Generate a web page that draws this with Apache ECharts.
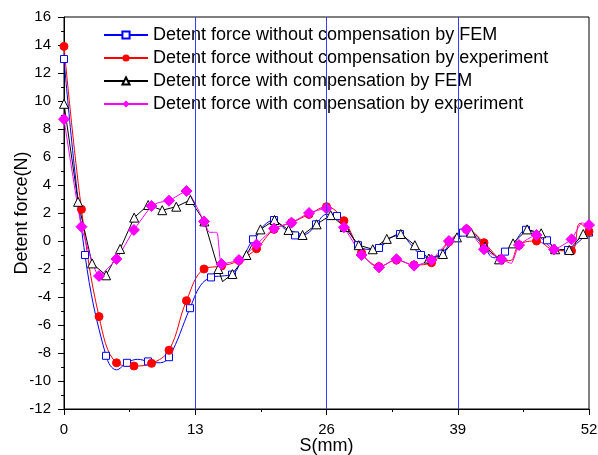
<!DOCTYPE html>
<html>
<head>
<meta charset="utf-8">
<script src="https://cdn.jsdelivr.net/npm/echarts@6/dist/echarts.min.js"></script>
<style>
  html, body { margin: 0; padding: 0; background: #fff; }
  #chart { width: 598px; height: 455px; }
</style>
</head>
<body>
<div id="chart"></div>
<script>
// Detent force versus position S (mm)
const xTicks = [0, 13, 26, 39, 52];
const pitchLines = [13, 26, 39];

const seriesNames = [
  'Detent force without compensation by FEM',
  'Detent force without compensation by experiment',
  'Detent force with compensation by FEM',
  'Detent force with compensation by experiment'
];

// FEM, without compensation (marked samples)
const femRawX = [0, 2.08, 4.16, 6.24, 8.32, 10.4, 12.48, 14.56, 16.64, 18.72, 20.8, 22.88, 24.96, 27.04, 29.12, 31.2, 33.28, 35.36, 37.44, 39.52, 41.6, 43.68, 45.76, 47.84, 49.92, 52];
const femRawY = [13.0, -1.0, -8.2, -8.7, -8.6, -8.3, -4.8, -2.6, -2.4, 0.12, 1.5, 0.4, 1.19, 1.79, -0.3, -0.5, 0.5, -1.0, -0.9, 0.6, -0.4, -0.76, 0.8, 0.05, -0.64, 0.6];
// FEM, without compensation (intermediate samples)
const femRawMidX = [5.2, 7.3, 9.4, 13.5, 15.6, 17.7, 19.8, 21.8, 24.0, 26.0, 28.1, 30.2, 32.3, 34.3, 36.4, 38.5, 40.6, 42.6, 44.7, 46.8, 48.9, 50.9];
const femRawMidY = [-9.2, -8.45, -8.7, -3.2, -2.5, -1.2, 1.1, 0.9, 0.5, 1.9, 0.9, -0.6, 0.2, -0.2, -1.2, 0.1, 0.5, -1.2, 0.0, 0.5, -0.6, -0.1];

// Experiment, without compensation
const expRawX = [0, 1.73, 3.47, 5.2, 6.93, 8.67, 10.4, 12.13, 13.87, 15.6, 17.33, 19.07, 20.8, 22.53, 24.27, 26.0, 27.73, 29.47, 31.2, 32.93, 34.67, 36.4, 38.13, 39.87, 41.6, 43.33, 45.07, 46.8, 48.53, 50.27, 52];
const expRawY = [13.9, 2.26, -5.4, -8.7, -8.93, -8.74, -7.8, -4.26, -2.0, -1.79, -1.4, -0.55, 0.83, 1.31, 1.9, 2.45, 1.45, -0.83, -1.83, -1.36, -1.71, -1.55, -0.05, 0.83, -0.12, -1.31, -0.29, 0.0, -0.64, -0.71, 0.66];
const expRawMidX = [44.2, 51.1];
const expRawMidY = [-1.4, 1.26];

// FEM, with compensation
const femCompX = [0, 1.39, 2.78, 4.17, 5.56, 6.95, 8.34, 9.73, 11.12, 12.51, 13.9, 15.29, 16.68, 18.07, 19.46, 20.85, 22.24, 23.63, 25.02, 26.41, 27.8, 29.19, 30.58, 31.97, 33.36, 34.75, 36.14, 37.53, 38.92, 40.31, 41.7, 43.09, 44.48, 45.87, 47.26, 48.65, 50.04, 51.43];
const femCompY = [9.8, 2.8, -1.6, -2.45, -0.57, 1.67, 2.57, 2.2, 2.45, 2.93, 1.4, -2.0, -2.36, -1.0, 0.83, 1.5, 0.79, 0.43, 1.19, 1.85, 1.0, -0.3, -0.59, 0.15, 0.5, -0.3, -1.25, -0.93, 0.26, 0.6, -0.4, -1.31, -0.17, 0.83, 0.55, -0.59, -0.64, 0.5];
const femCompMidX = [15.7, 52];
const femCompMidY = [-2.9, 0.6];

// Experiment, with compensation
const expCompX = [0, 1.73, 3.47, 5.2, 6.93, 8.67, 10.4, 12.13, 13.87, 15.6, 17.33, 19.07, 20.8, 22.53, 24.27, 26.0, 27.73, 29.47, 31.2, 32.93, 34.67, 36.4, 38.13, 39.87, 41.6, 43.33, 45.07, 46.8, 48.53, 50.27, 52];
const expCompY = [8.7, 1.02, -2.5, -1.29, 0.79, 2.5, 2.88, 3.57, 1.4, -1.64, -1.36, -0.25, 0.9, 1.31, 2.0, 2.33, 0.98, -1.0, -1.88, -1.3, -1.76, -1.36, 0.0, 0.83, -0.59, -1.31, -0.29, 0.43, -0.6, 0.12, 1.14];
const expCompMidX = [9.4, 14.4, 15.15, 44.3, 51.3];
const expCompMidY = [2.75, 0.62, 0.62, -1.6, 1.3];

// Merge marked and intermediate samples; intermediate ones carry no symbol
function buildData(xs, ys, midX, midY) {
  const pts = xs.map((x, i) => ({ value: [x, ys[i]] }));
  midX.forEach((x, i) => pts.push({ value: [x, midY[i]], symbol: 'none' }));
  pts.sort((a, b) => a.value[0] - b.value[0]);
  return pts;
}

const FONT = 'Liberation Sans, Arial, sans-serif';
const PITCH_BLUE = '#3a3aff';

const chart = echarts.init(document.getElementById('chart'), null, { renderer: 'canvas' });

chart.setOption({
  animation: false,
  backgroundColor: '#ffffff',
  grid: {
    left: 64, right: 9, top: 17, bottom: 46,
    outerBoundsMode: 'none', containLabel: false,
    show: true, borderColor: '#000', borderWidth: 1, backgroundColor: 'transparent'
  },
  legend: {
    orient: 'vertical',
    left: 98, top: 21,
    itemWidth: 44, itemHeight: 9, itemGap: 5,
    textStyle: { fontSize: 18, fontFamily: FONT, color: '#000' },
    data: seriesNames
  },
  xAxis: {
    type: 'value',
    min: 0, max: 52, interval: 13,
    name: 'S(mm)', nameLocation: 'middle', nameGap: 28, nameMoveOverlap: false,
    nameTextStyle: { fontSize: 18, fontFamily: FONT, color: '#000' },
    axisLine: { onZero: false, lineStyle: { color: '#000', width: 1 } },
    axisTick: { show: true, inside: false, length: 6, lineStyle: { color: '#000' } },
    minorTick: { show: true, splitNumber: 2, length: 3, lineStyle: { color: '#000' } },
    axisLabel: { fontSize: 15, fontFamily: FONT, color: '#000', margin: 13 },
    splitLine: { show: false }
  },
  yAxis: {
    type: 'value',
    min: -12, max: 16, interval: 2,
    name: 'Detent force(N)', nameLocation: 'middle', nameGap: 33, nameMoveOverlap: false,
    nameTextStyle: { fontSize: 18, fontFamily: FONT, color: '#000' },
    axisLine: { onZero: false, lineStyle: { color: '#000', width: 1 } },
    axisTick: { show: true, inside: false, length: 6, lineStyle: { color: '#000' } },
    minorTick: { show: true, splitNumber: 2, length: 3, lineStyle: { color: '#000' } },
    axisLabel: { fontSize: 15, fontFamily: FONT, color: '#000', margin: 13 },
    splitLine: { show: false }
  },
  series: [
    {
      // vertical pitch markers at 13, 26 and 39 mm
      name: 'pitch', type: 'line', data: [],
      color: PITCH_BLUE,
      markLine: {
        silent: true, symbol: ['none', 'none'],
        label: { show: false },
        itemStyle: { color: PITCH_BLUE },
        lineStyle: { color: PITCH_BLUE, width: 1, type: 'solid', opacity: 1 },
        emphasis: { disabled: true },
        data: pitchLines.map(v => ({ xAxis: v, lineStyle: { color: PITCH_BLUE } }))
      }
    },
    {
      name: seriesNames[0], type: 'line', smooth: 0.4,
      data: buildData(femRawX, femRawY, femRawMidX, femRawMidY),
      symbol: 'rect', symbolSize: 7,
      lineStyle: { color: '#0000ff', width: 1 },
      itemStyle: { color: '#ffffff', borderColor: '#0000ff', borderWidth: 1 },
      emphasis: { disabled: true }
    },
    {
      name: seriesNames[1], type: 'line', smooth: 0.4,
      data: buildData(expRawX, expRawY, expRawMidX, expRawMidY),
      symbol: 'circle', symbolSize: 8,
      lineStyle: { color: '#ff0000', width: 1 },
      itemStyle: { color: '#ff0000', borderColor: '#ff0000' },
      emphasis: { disabled: true }
    },
    {
      name: seriesNames[2], type: 'line', smooth: false,
      data: buildData(femCompX, femCompY, femCompMidX, femCompMidY),
      symbol: 'triangle', symbolSize: 9,
      lineStyle: { color: '#000000', width: 1 },
      itemStyle: { color: '#ffffff', borderColor: '#000000', borderWidth: 1 },
      emphasis: { disabled: true }
    },
    {
      name: seriesNames[3], type: 'line', smooth: 0.15,
      data: buildData(expCompX, expCompY, expCompMidX, expCompMidY),
      symbol: 'diamond', symbolSize: 11,
      lineStyle: { color: '#ff00ff', width: 1 },
      itemStyle: { color: '#ff00ff', borderColor: '#ff00ff' },
      emphasis: { disabled: true }
    }
  ]
});
</script>
</body>
</html>
